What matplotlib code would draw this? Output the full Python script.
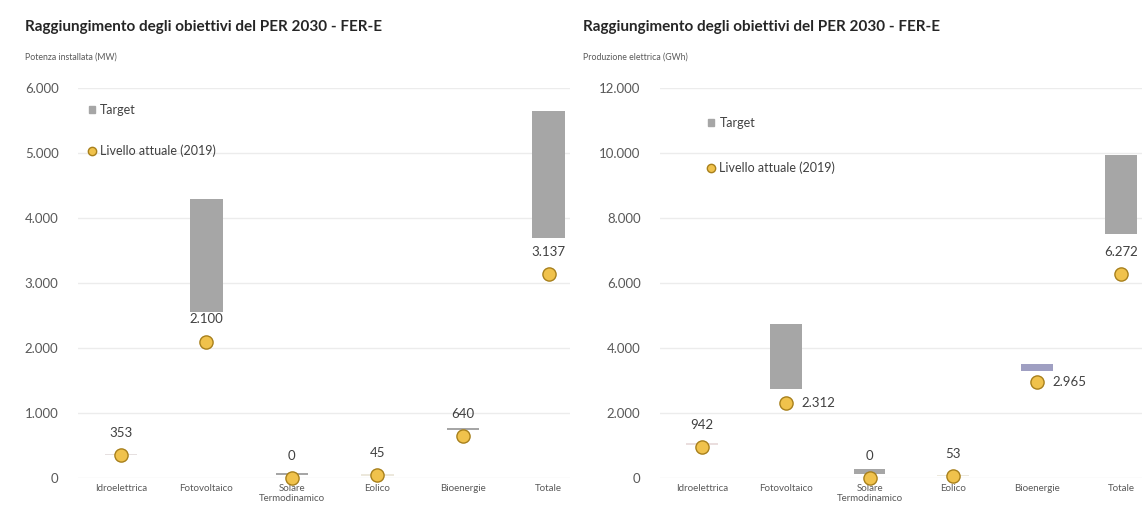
import matplotlib
matplotlib.use('Agg')
import matplotlib.pyplot as plt
from matplotlib.lines import Line2D
from matplotlib.patches import Patch

plt.rcParams['font.family'] = ['Lato', 'DejaVu Sans']

categories = ['Idroelettrica', 'Fotovoltaico', 'Solare\nTermodinamico', 'Eolico', 'Bioenergie', 'Totale']

# Potenza installata (MW)
mw_target_low = [350, 2550, 40, 35, 740, 3700]
mw_target_high = [375, 4300, 70, 55, 770, 5640]
mw_actual = [353, 2100, 0, 45, 640, 3137]
mw_labels = ['353', '2.100', '0', '45', '640', '3.137']

# Produzione elettrica (GWh)
gwh_target_low = [1030, 2750, 120, 60, 3300, 7500]
gwh_target_high = [1070, 4750, 270, 100, 3520, 9950]
gwh_actual = [942, 2312, 0, 53, 2965, 6272]
gwh_labels = ['942', '2.312', '0', '53', '2.965', '6.272']
gwh_label_side = ['top', 'right', 'top', 'top', 'right', 'top']

target_colors = ['#e6e0e0', '#a6a6a6', '#a6a6a6', '#ece8dc', '#a6a6a6', '#a6a6a6']
target_colors_r = ['#eadede', '#a6a6a6', '#a6a6a6', '#ece8dc', '#9f9fc2', '#a6a6a6']

title = 'Raggiungimento degli obiettivi del PER 2030 - FER-E'
dot_face = '#f0c24c'
dot_edge = '#a8801c'

fig = plt.figure(figsize=(11.42, 5.16), dpi=100)
W, H = 1142, 516


def px_axes(x0, x1, y_top, y_bot):
    return fig.add_axes([x0 / W, (H - y_bot) / H, (x1 - x0) / W, (y_bot - y_top) / H])


def draw_panel(ax, low, high, actual, labels, sides, ymax, yticks, tcolors):
    x = range(len(categories))
    heights = [h - l for h, l in zip(high, low)]
    ax.bar(x, heights, bottom=low, width=0.38, color=tcolors, zorder=2)
    ax.plot(x, actual, 'o', ms=9.5, mfc=dot_face, mec=dot_edge, mew=1.0,
            linestyle='none', zorder=3, clip_on=False)
    for i, (v, lab) in enumerate(zip(actual, labels)):
        if sides[i] == 'right':
            ax.annotate(lab, (i, v), xytext=(11, 0), textcoords='offset points',
                        ha='left', va='center', fontsize=9.5, color='#404040')
        else:
            ax.annotate(lab, (i, v), xytext=(0, 16), textcoords='offset points',
                        ha='center', va='center', fontsize=9.5, color='#404040')
    ax.set_xlim(-0.5, 5.25)
    ax.set_ylim(0, ymax)
    ax.set_yticks(yticks)
    ax.set_yticklabels([f'{t:,}'.replace(',', '.') for t in yticks])
    ax.set_xticks(list(x))
    ax.set_xticklabels(categories, fontsize=7, color='#595959', linespacing=1.25)
    ax.tick_params(axis='y', labelsize=9.5, colors='#595959', length=0, pad=14)
    ax.tick_params(axis='x', length=0, pad=4)
    ax.grid(axis='y', color='#ececec', linewidth=1.0, zorder=0)
    for s in ax.spines.values():
        s.set_visible(False)


handles = [Patch(color='#a6a6a6'),
           Line2D([], [], marker='o', ms=6, mfc=dot_face, mec=dot_edge, linestyle='none')]
names = ['Target', 'Livello attuale (2019)']

# left panel
ax1 = px_axes(78, 570, 88, 478)
draw_panel(ax1, mw_target_low, mw_target_high, mw_actual, mw_labels,
           ['top'] * 6, 6000, [0, 1000, 2000, 3000, 4000, 5000, 6000], target_colors)
ax1.legend(handles, names, loc='upper left', bbox_to_anchor=(0.022, 0.96), frameon=False,
           fontsize=9, labelspacing=2.3, handlelength=0.5, handleheight=0.5,
           handletextpad=0.4, borderpad=0, borderaxespad=0, labelcolor='#404040')
fig.text(25 / W, 1 - 27 / H, title, fontsize=11, fontweight='bold', color='#262626', va='center')
fig.text(25 / W, 1 - 57 / H, 'Potenza installata (MW)', fontsize=6.3, color='#595959', va='center')

# right panel
ax2 = px_axes(660, 1142, 88, 478)
draw_panel(ax2, gwh_target_low, gwh_target_high, gwh_actual, gwh_labels,
           gwh_label_side, 12000, [0, 2000, 4000, 6000, 8000, 10000, 12000], target_colors_r)
ax2.legend(handles, names, loc='upper left', bbox_to_anchor=(0.10, 0.926), frameon=False,
           fontsize=9, labelspacing=2.6, handlelength=0.5, handleheight=0.5,
           handletextpad=0.4, borderpad=0, borderaxespad=0, labelcolor='#404040')
fig.text(583 / W, 1 - 27 / H, title, fontsize=11, fontweight='bold', color='#262626', va='center')
fig.text(583 / W, 1 - 57 / H, 'Produzione elettrica (GWh)', fontsize=6.3, color='#595959', va='center')

fig.savefig('out.png', dpi=100, facecolor='white')
